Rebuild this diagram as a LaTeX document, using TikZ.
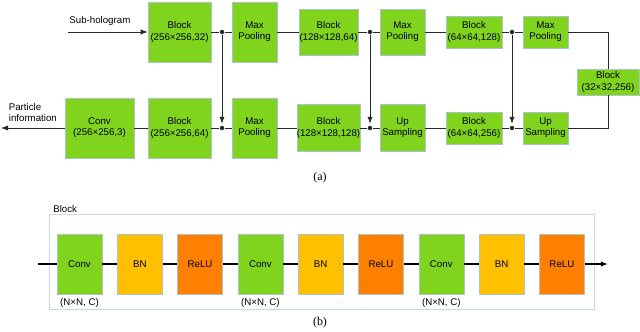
\documentclass[tikz,border=0pt]{standalone}
\usepackage{fontspec}
\setmainfont{Liberation Serif}
\setsansfont{Liberation Sans}
\usetikzlibrary{arrows.meta,positioning}

\definecolor{netgreen}{RGB}{128,212,30}
\definecolor{bnyellow}{RGB}{255,192,0}
\definecolor{reluorange}{RGB}{255,128,0}
\definecolor{boxedge}{RGB}{170,195,205}
\definecolor{frameedge}{RGB}{200,215,232}
\definecolor{wire}{RGB}{40,40,40}

\begin{document}
\begin{tikzpicture}[x=0.025cm,y=-0.025cm,>={Latex[length=5pt,width=3.8pt]},
  font=\sffamily\fontsize{6.9}{7.9}\selectfont,
  unit/.style 2 args={draw=boxedge,fill=netgreen,minimum width=#1*0.025cm,minimum height=#2*0.025cm,inner sep=0pt,align=center},
  junc/.style={circle,fill=wire,inner sep=0pt,minimum size=3.2pt},
  wire/.style={draw=wire,line width=0.7pt},
  layer/.style={draw=boxedge,minimum width=45*0.025cm,minimum height=60*0.025cm,inner sep=0pt},
  subcap/.style={font=\rmfamily\fontsize{8.5}{10}\selectfont}]
  \useasboundingbox (0,0) rectangle (640,331);

  % (a) encoder / decoder
  \coordinate (inp) at (68,32);
  \node[unit={63}{60}] (b1) at (179.5,32) {Block\\(256×256,32)};
  \node[junc] (j1) at (222,32) {};
  \node[unit={45}{60}] (mp1) at (254.5,32) {Max\\Pooling};
  \node[unit={59}{46}] (b2) at (328.5,32) {Block\\(128×128,64)};
  \node[junc] (j2) at (370,32) {};
  \node[unit={45}{46}] (mp2) at (402.5,32) {Max\\Pooling};
  \node[unit={56}{32}] (b3) at (474,32) {Block\\(64×64,128)};
  \node[junc] (j3) at (512,32) {};
  \node[unit={45}{32}] (mp3) at (545.5,32) {Max\\Pooling};
  \node[unit={62}{26}] (b4) at (608,82) {Block\\(32×32,256)};

  \node[unit={45}{32}] (up2) at (545.5,128) {Up\\Sampling};
  \node[junc] (k3) at (512,128) {};
  \node[unit={56}{32}] (b5) at (474,128) {Block\\(64×64,256)};
  \node[unit={45}{47}] (up1) at (402.5,128) {Up\\Sampling};
  \node[junc] (k2) at (370,128) {};
  \node[unit={59}{47}] (b6) at (328.5,128) {Block\\(128×128,128)};
  \node[unit={45}{60}] (mp4) at (254.5,128) {Max\\Pooling};
  \node[junc] (k1) at (222,128) {};
  \node[unit={63}{60}] (b7) at (179.5,128) {Block\\(256×256,64)};
  \node[unit={69}{60}] (conv) at (99.5,128) {Conv\\(256×256,3)};
  \coordinate (outp) at (1,128);

  \draw[wire,->] (inp) -- node[above=1pt,pos=0.4] {Sub-hologram} (b1);
  \draw[wire] (b1) -- (j1) -- (mp1) -- (b2) -- (j2) -- (mp2) -- (b3) -- (j3) -- (mp3);
  \draw[wire] (mp3.east) -| (b4.north);
  \draw[wire] (b4.south) |- (up2.east);
  \draw[wire] (up2) -- (k3) -- (b5) -- (up1) -- (k2) -- (b6) -- (mp4) -- (k1) -- (b7) -- (conv);
  \draw[wire,->] (conv) -- node[above=1pt,align=left] {Particle\\information} (outp);
  \draw[wire,->,shorten >=1.2pt] (j1) -- (k1);
  \draw[wire,->,shorten >=1.2pt] (j2) -- (k2);
  \draw[wire,->,shorten >=1.2pt] (j3) -- (k3);

  \node[subcap] (capa) at (320,178) {(a)};

  % (b) inside one block
  \draw[frameedge,line width=0.6pt] (49,214) rectangle (594,309);
  \node[anchor=south west,inner sep=0pt] (blab) at (53,213) {Block};
  \coordinate (bin) at (38,264);
  \node[layer,fill=netgreen] (u0) at (79.5,264) {Conv};
  \node[layer,fill=bnyellow] (u1) at (139.8,264) {BN};
  \node[layer,fill=reluorange] (u2) at (200.1,264) {ReLU};
  \node[layer,fill=netgreen] (u3) at (260.4,264) {Conv};
  \node[layer,fill=bnyellow] (u4) at (320.7,264) {BN};
  \node[layer,fill=reluorange] (u5) at (381,264) {ReLU};
  \node[layer,fill=netgreen] (u6) at (441.3,264) {Conv};
  \node[layer,fill=bnyellow] (u7) at (501.6,264) {BN};
  \node[layer,fill=reluorange] (u8) at (561.9,264) {ReLU};
  \coordinate (bout) at (608,264);
  \draw[draw=black,line width=1.1pt,->] (bin) -- (u0) -- (u1) -- (u2) -- (u3) -- (u4) -- (u5) -- (u6) -- (u7) -- (u8) -- (bout);
  \foreach \c in {u0,u3,u6}
    \node[below=1.5pt of \c.south,inner sep=1pt] {(N×N, C)};

  \node[subcap] (capb) at (320,323) {(b)};
\end{tikzpicture}
\end{document}
